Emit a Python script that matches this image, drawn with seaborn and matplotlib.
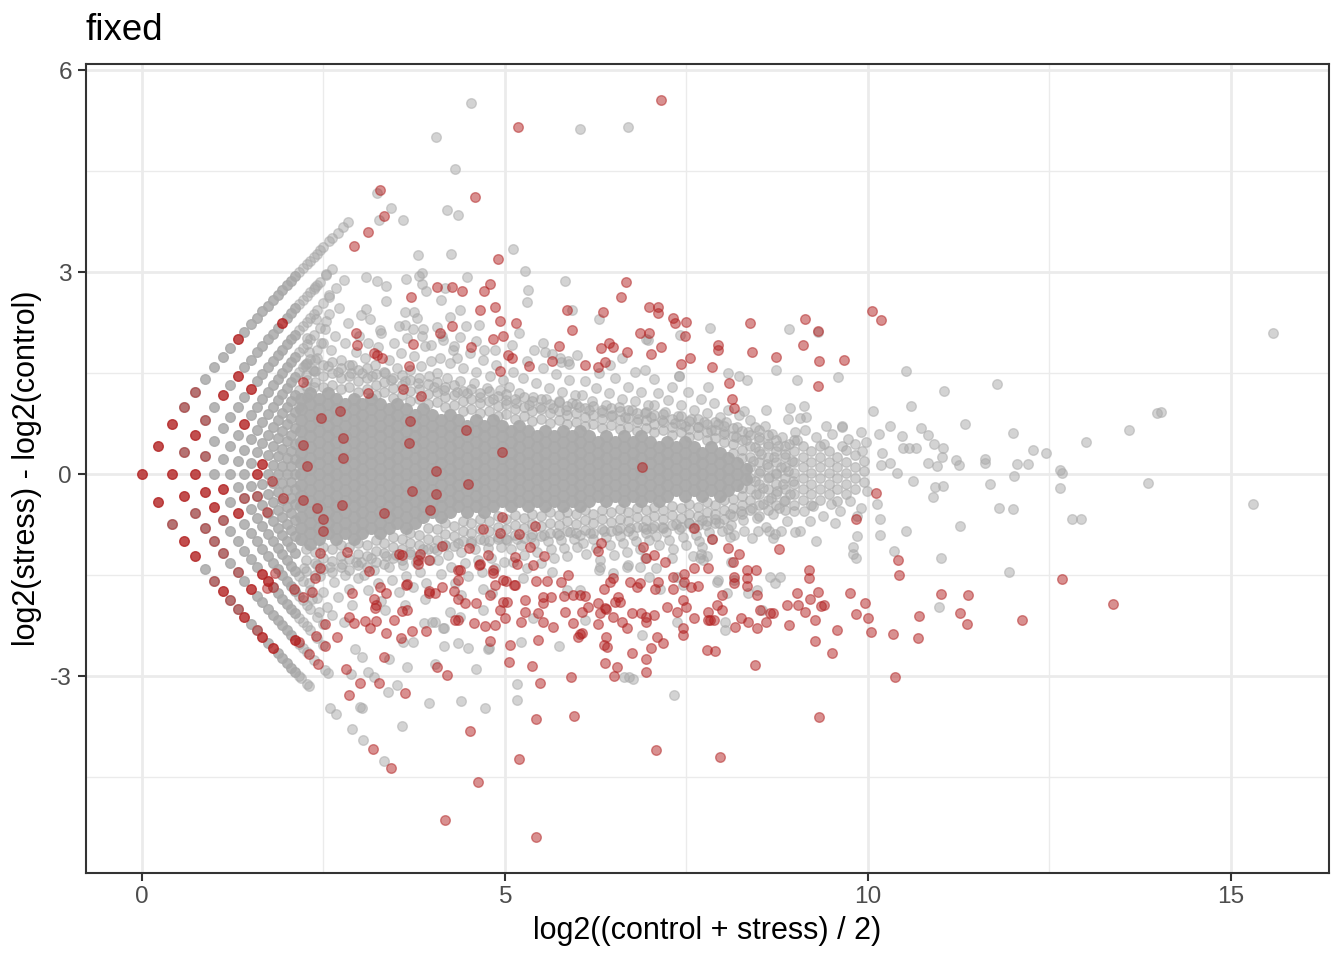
import numpy as np
import pandas as pd
import matplotlib
matplotlib.use("Agg")
import matplotlib.pyplot as plt
import seaborn as sns

# ------------------------------------------------------------------ data
# Low-count genes sit on a lattice: (summed control counts, summed stress counts)
# over 3 replicates; plotted values are the mean of (count + 1).
lattice_cols = [
    (0, [0]),
    (1, [0, 1]),
    (2, [0, 1, 2]),
    (3, [0, 1, 2, 3]),
    (4, [0, 1, 2, 3, 4]),
    (5, [0, 1, 2, 3, 4, 5]),
    (6, [0, 1, 2, 3, 4, 5, 6]),
    (7, [0, 1, 2, 3, 4, 5, 6, 7]),
    (8, [0, 1, 2, 3, 4, 5, 6, 7, 8]),
    (9, [0, 1, 2, 3, 4, 5, 6, 7, 8, 9]),
    (10, [0, 1, 2, 3, 4, 5, 6, 7, 8, 9, 10]),
    (11, [0, 1, 2, 3, 4, 5, 6, 7, 8, 9, 10, 11]),
    (12, [0, 1, 2, 3, 4, 5, 6, 7, 8, 9, 10, 11, 12]),
    (13, [0, 1, 2, 3, 4, 5, 6, 7, 8, 9, 10, 11, 12, 13]),
    (14, [0, 1, 2, 3, 4, 5, 6, 7, 8, 9, 10, 11, 12, 13, 14]),
    (15, [0, 1, 2, 3, 4, 5, 6, 7, 8, 9, 10, 11, 12, 13, 14, 15]),
    (16, [0, 1, 2, 3, 4, 5, 6, 7, 8, 9, 10, 11, 12, 13, 14, 15, 16]),
    (17, [0, 1, 2, 3, 4, 5, 6, 7, 8, 9, 10, 11, 12, 13, 14, 15, 16, 17]),
    (18, [0, 1, 2, 3, 4, 5, 6, 7, 8, 9, 10, 11, 12, 13, 14, 15, 16, 17, 18]),
    (19, [0, 1, 2, 3, 4, 5, 6, 7, 8, 9, 10, 11, 12, 13, 14, 15, 16, 17, 18, 19]),
    (20, [0, 1, 2, 3, 4, 5, 6, 7, 8, 9, 10, 11, 12, 13, 14, 15, 16, 17, 18, 19, 20]),
]
lattice_extra = [
    (0, 21), (0, 22), (0, 23), (0, 24), (0, 25), (0, 26), (0, 27), (0, 28), (0, 30),
    (0, 31), (0, 33), (0, 35), (0, 37),
    (1, 20), (1, 21), (1, 22), (1, 23), (1, 24), (1, 25), (1, 26), (1, 28), (1, 30),
    (2, 19), (2, 20), (2, 21), (2, 22), (2, 23), (2, 24), (2, 26), (2, 28),
    (3, 18), (3, 19), (3, 20), (3, 21), (3, 22), (3, 24), (3, 26),
    (4, 17), (4, 18), (4, 19), (4, 20), (4, 22), (4, 24),
    (5, 16), (5, 18), (5, 20), (6, 15), (6, 17), (6, 19),
    (21, 0), (23, 0), (20, 1), (21, 1), (22, 1), (24, 1),
    (19, 2), (20, 2), (21, 2), (22, 2), (24, 2), (26, 2),
    (18, 3), (19, 3), (20, 3), (21, 3), (23, 3), (25, 3),
    (17, 4), (18, 4), (20, 4), (22, 4),
]
# (control, stress) lattice genes flagged as changed
lattice_sig = [
    (0, 0), (1, 0), (0, 1), (0, 2), (1, 1), (2, 1), (3, 0), (1, 3), (2, 2), (4, 0),
    (3, 2), (4, 2), (1, 6), (4, 3), (7, 0), (0, 9), (1, 8), (6, 3), (3, 7), (10, 0),
    (2, 9), (10, 1), (6, 6), (6, 7), (11, 2), (13, 0), (12, 2), (15, 0), (1, 16), (19, 1),
]
lattice_mix = [
    (2, 0), (0, 3), (1, 2), (0, 4), (3, 1), (1, 4), (2, 3), (4, 1), (5, 1), (6, 0),
    (5, 2), (6, 1), (8, 0), (8, 1), (9, 0), (6, 4), (7, 5), (12, 0), (13, 2),
]

# saturated centre of the cloud: (A, list of M)
core_columns = [
    (2.20, [-0.96, -0.8, -0.64, -0.48, -0.32, -0.16, 0, 0.16, 0.32, 0.48, 0.64, 0.8, 0.96, 1.12]),
    (2.32, [-1.04, -0.88, -0.72, -0.56, -0.4, -0.24, -0.08, 0.08, 0.24, 0.4, 0.56, 0.72, 0.88, 1.04, 1.2]),
    (2.44, [-0.96, -0.8, -0.64, -0.48, -0.32, -0.16, 0, 0.16, 0.32, 0.48, 0.64, 0.8, 0.96, 1.12]),
    (2.56, [-0.88, -0.72, -0.56, -0.4, -0.24, -0.08, 0.08, 0.24, 0.4, 0.56, 0.72, 0.88, 1.04, 1.2]),
    (2.68, [-0.96, -0.8, -0.64, -0.48, -0.32, -0.16, 0, 0.16, 0.32, 0.48, 0.64, 0.8, 0.96, 1.12]),
    (2.80, [-0.88, -0.72, -0.56, -0.4, -0.24, -0.08, 0.08, 0.24, 0.4, 0.56, 0.72, 0.88, 1.04]),
    (2.92, [-0.96, -0.8, -0.64, -0.48, -0.32, -0.16, 0, 0.16, 0.32, 0.48, 0.64, 0.8, 0.96, 1.12]),
    (3.04, [-0.88, -0.72, -0.56, -0.4, -0.24, -0.08, 0.08, 0.24, 0.4, 0.56, 0.72, 0.88, 1.04]),
    (3.16, [-0.8, -0.64, -0.48, -0.32, -0.16, 0, 0.16, 0.32, 0.48, 0.64, 0.8, 0.96, 1.12]),
    (3.28, [-0.88, -0.72, -0.56, -0.4, -0.24, -0.08, 0.08, 0.24, 0.4, 0.56, 0.72, 0.88, 1.04]),
    (3.40, [-0.8, -0.64, -0.48, -0.32, -0.16, 0, 0.16, 0.32, 0.48, 0.64, 0.8, 0.96]),
    (3.52, [-0.72, -0.56, -0.4, -0.24, -0.08, 0.08, 0.24, 0.4, 0.56, 0.72, 0.88, 1.04]),
    (3.64, [-0.8, -0.64, -0.48, -0.32, -0.16, 0, 0.16, 0.32, 0.48, 0.64, 0.8, 0.96]),
    (3.76, [-0.72, -0.56, -0.4, -0.24, -0.08, 0.08, 0.24, 0.4, 0.56, 0.72, 0.88]),
    (3.88, [-0.64, -0.48, -0.32, -0.16, 0, 0.16, 0.32, 0.48, 0.64, 0.8, 0.96]),
    (4.00, [-0.56, -0.4, -0.24, -0.08, 0.08, 0.24, 0.4, 0.56, 0.72, 0.88]),
    (4.12, [-0.64, -0.48, -0.32, -0.16, 0, 0.16, 0.32, 0.48, 0.64, 0.8]),
    (4.24, [-0.56, -0.4, -0.24, -0.08, 0.08, 0.24, 0.4, 0.56, 0.72, 0.88]),
    (4.36, [-0.48, -0.32, -0.16, 0, 0.16, 0.32, 0.48, 0.64, 0.8]),
    (4.48, [-0.56, -0.4, -0.24, -0.08, 0.08, 0.24, 0.4, 0.56, 0.72]),
    (4.60, [-0.48, -0.32, -0.16, 0, 0.16, 0.32, 0.48, 0.64, 0.8]),
    (4.72, [-0.56, -0.4, -0.24, -0.08, 0.08, 0.24, 0.4, 0.56, 0.72]),
    (4.84, [-0.48, -0.32, -0.16, 0, 0.16, 0.32, 0.48, 0.64, 0.8]),
    (4.96, [-0.4, -0.24, -0.08, 0.08, 0.24, 0.4, 0.56, 0.72]),
    (5.08, [-0.48, -0.32, -0.16, 0, 0.16, 0.32, 0.48, 0.64]),
    (5.20, [-0.4, -0.24, -0.08, 0.08, 0.24, 0.4, 0.56, 0.72]),
    (5.32, [-0.48, -0.32, -0.16, 0, 0.16, 0.32, 0.48, 0.64]),
    (5.44, [-0.4, -0.24, -0.08, 0.08, 0.24, 0.4, 0.56]),
    (5.56, [-0.48, -0.32, -0.16, 0, 0.16, 0.32, 0.48, 0.64]),
    (5.68, [-0.4, -0.24, -0.08, 0.08, 0.24, 0.4, 0.56]),
    (5.80, [-0.48, -0.32, -0.16, 0, 0.16, 0.32, 0.48, 0.64]),
    (5.92, [-0.4, -0.24, -0.08, 0.08, 0.24, 0.4, 0.56]),
    (6.04, [-0.48, -0.32, -0.16, 0, 0.16, 0.32, 0.48, 0.64]),
    (6.16, [-0.4, -0.24, -0.08, 0.08, 0.24, 0.4, 0.56]),
    (6.28, [-0.32, -0.16, 0, 0.16, 0.32, 0.48]),
    (6.40, [-0.4, -0.24, -0.08, 0.08, 0.24, 0.4, 0.56]),
    (6.52, [-0.32, -0.16, 0, 0.16, 0.32, 0.48]),
    (6.64, [-0.4, -0.24, -0.08, 0.08, 0.24, 0.4, 0.56]),
    (6.76, [-0.32, -0.16, 0, 0.16, 0.32, 0.48]),
    (6.88, [-0.4, -0.24, -0.08, 0.08, 0.24, 0.4, 0.56]),
    (7.00, [-0.32, -0.16, 0, 0.16, 0.32, 0.48]),
    (7.12, [-0.4, -0.24, -0.08, 0.08, 0.24, 0.4]),
    (7.24, [-0.32, -0.16, 0, 0.16, 0.32, 0.48]),
    (7.36, [-0.24, -0.08, 0.08, 0.24, 0.4]),
    (7.48, [-0.32, -0.16, 0, 0.16, 0.32, 0.48]),
    (7.60, [-0.24, -0.08, 0.08, 0.24, 0.4]),
    (7.72, [-0.32, -0.16, 0, 0.16, 0.32]),
    (7.84, [-0.24, -0.08, 0.08, 0.24, 0.4]),
    (7.96, [-0.32, -0.16, 0, 0.16, 0.32]),
    (8.08, [-0.24, -0.08, 0.08, 0.24]),
    (8.20, [-0.16, 0, 0.16]),
    (8.32, [-0.08, 0.08]),
]

# dense (not saturated) fringe of the cloud: (A, list of M)
dense_columns = [
    (2.26, [1.31, 1.47, 1.64, -1.11, -1.27, -1.44]),
    (2.38, [1.36, 1.53, 1.70, -1.15, -1.32, -1.50]),
    (2.50, [1.29, 1.45, 1.62, -1.08, -1.24, -1.41]),
    (2.62, [1.33, 1.50, 1.66, -1.12, -1.29, -1.46]),
    (2.74, [1.26, 1.42, 1.58, -1.05, -1.21, -1.38]),
    (2.86, [1.30, 1.46, 1.62, -1.09, -1.26, -1.42]),
    (2.98, [1.22, 1.38, 1.54, -1.02, -1.18, -1.35]),
    (3.10, [1.26, 1.42, 1.57, -1.06, -1.22, -1.38]),
    (3.22, [1.18, 1.33, 1.49, -0.98, -1.14, -1.30]),
    (3.34, [1.22, 1.37, 1.52, -1.02, -1.17, -1.33]),
    (3.46, [1.13, 1.28, 1.43, -0.93, -1.09, -1.25]),
    (3.58, [1.17, 1.32, 1.47, -0.96, -1.12, -1.27]),
    (3.70, [1.09, 1.24, 1.39, -0.87, -1.03, -1.18]),
    (3.82, [1.12, 1.27, 1.42, -0.90, -1.06, -1.21]),
    (3.94, [1.04, 1.19, 1.34, -0.80, -0.96, -1.12]),
    (4.06, [1.07, 1.22, 1.37, -0.82, -0.98, -1.13]),
    (4.18, [0.99, 1.14, 1.29, -0.73, -0.89, -1.05]),
    (4.30, [1.02, 1.17, 1.32, -0.77, -0.92, -1.07]),
    (4.42, [0.94, 1.09, 1.24, -0.69, -0.84, -1.00]),
    (4.54, [0.97, 1.12, 1.27, -0.72, -0.87, -1.03]),
    (4.66, [0.90, 1.05, 1.20, -0.66, -0.81, -0.97]),
    (4.78, [0.93, 1.08, 1.23, -0.69, -0.84, -1.00]),
    (4.90, [0.86, 1.01, 1.16, -0.63, -0.78, -0.94]),
    (5.02, [0.89, 1.04, 1.19, -0.67, -0.82, -0.97]),
    (5.14, [0.82, 0.97, 1.12, -0.61, -0.76, -0.91]),
    (5.26, [0.86, 1.00, 1.15, -0.65, -0.80, -0.95]),
    (5.38, [0.79, 0.94, 1.08, -0.59, -0.74, -0.89]),
    (5.50, [0.82, 0.97, 1.11, -0.62, -0.77, -0.92]),
    (5.62, [0.76, 0.90, 1.04, -0.57, -0.72, -0.87]),
    (5.74, [0.80, 0.94, 1.07, -0.61, -0.76, -0.90]),
    (5.86, [0.74, 0.88, 1.01, -0.56, -0.70, -0.85]),
    (5.98, [0.77, 0.91, 1.04, -0.60, -0.74, -0.88]),
    (6.10, [0.71, 0.85, 0.98, -0.54, -0.68, -0.83]),
    (6.22, [0.75, 0.88, 1.01, -0.59, -0.73, -0.87]),
    (6.34, [0.69, 0.82, 0.95, -0.53, -0.67, -0.81]),
    (6.46, [0.73, 0.86, 0.98, -0.57, -0.71, -0.85]),
    (6.58, [0.67, 0.80, 0.93, -0.52, -0.66, -0.80]),
    (6.70, [0.70, 0.83, 0.95, -0.56, -0.70, -0.84]),
    (6.82, [0.64, 0.77, 0.90, -0.50, -0.64, -0.78]),
    (6.94, [0.68, 0.80, 0.92, -0.54, -0.68, -0.82]),
    (7.06, [0.62, 0.75, 0.87, -0.49, -0.63, -0.77]),
    (7.18, [0.65, 0.77, 0.89, -0.53, -0.67, -0.80]),
    (7.30, [0.58, 0.70, 0.82, -0.47, -0.61, -0.75]),
    (7.42, [0.62, 0.74, 0.86, -0.51, -0.65, -0.78]),
    (7.54, [0.55, 0.67, 0.79, -0.45, -0.59, -0.73]),
    (7.66, [0.58, 0.70, 0.82, -0.49, -0.63, -0.76]),
    (7.78, [0.51, 0.63, 0.75, -0.42, -0.56, -0.70]),
    (7.90, [0.54, 0.66, 0.78, -0.46, -0.60, -0.73]),
    (8.02, [0.47, 0.59, 0.71, -0.39, -0.53, -0.67]),
    (8.14, [0.32, 0.44, 0.56, 0.68, -0.37, -0.50, -0.63]),
    (8.26, [0.24, 0.36, 0.50, 0.64, -0.20, -0.32, -0.46, -0.60]),
    (8.38, [0.10, 0.26, 0.42, 0.58, -0.06, -0.22, -0.38, -0.54]),
    (8.50, [0.02, 0.18, 0.34, 0.50, 0.66, -0.14, -0.30, -0.46, -0.62]),
    (8.62, [0.10, 0.26, 0.42, 0.58, -0.06, -0.22, -0.38, -0.54]),
    (8.74, [0.02, 0.18, 0.34, 0.50, -0.14, -0.30, -0.46]),
    (8.86, [0.10, 0.26, 0.42, -0.06, -0.22, -0.38, -0.54]),
    (8.98, [0.02, 0.18, 0.34, 0.50, -0.14, -0.30, -0.46]),
    (9.10, [0.10, 0.26, 0.42, -0.06, -0.22, -0.38]),
    (9.22, [0.02, 0.18, 0.34, -0.14, -0.30, -0.46]),
    (9.34, [0.10, 0.26, 0.42, -0.06, -0.22, -0.38]),
    (9.46, [0.02, 0.18, 0.34, -0.14, -0.30]),
    (9.58, [0.10, 0.26, -0.06, -0.22, -0.40]),
    (9.70, [0.02, 0.18, 0.36, -0.14, -0.30]),
    (9.82, [0.10, 0.28, -0.06, -0.22]),
    (9.94, [0.04, 0.20, -0.12]),
]

# unchanged genes around the cloud: (A, M)
cloud_gray = [
    (2.25, 1.62), (2.31, 1.81), (2.28, 2.02), (2.36, 1.55), (2.42, 1.72), (2.47, 1.95), (2.52, 2.15),
    (2.56, 1.6), (2.61, 1.84), (2.66, 2.05), (2.7, 1.52), (2.75, 1.7), (2.8, 1.95), (2.84, 2.25),
    (2.9, 1.62), (2.95, 1.82), (2.99, 2.05), (2.88, 1.5), (2.4, 2.3), (2.58, 2.38), (2.72, 2.46),
    (2.24, -1.4), (2.3, -1.62), (2.35, -1.85), (2.41, -1.35), (2.46, -1.52), (2.5, -1.75), (2.55, -1.98),
    (2.6, -1.38), (2.65, -1.6), (2.7, -1.82), (2.76, -1.33), (2.8, -1.5), (2.85, -1.7), (2.9, -1.95),
    (2.95, -1.3), (2.98, -1.55), (2.62, -2.1), (2.78, -2.2), (2.44, -2.05),
    (3.03, 1.5), (3.08, 1.72), (3.12, 1.95), (3.17, 1.45), (3.21, 1.62), (3.26, 1.88), (3.3, 2.1),
    (3.35, 1.5), (3.4, 1.7), (3.44, 1.4), (3.48, 1.95), (3.52, 1.58), (3.57, 1.8), (3.62, 1.38),
    (3.66, 2.02), (3.7, 1.55), (3.75, 1.75), (3.8, 1.35), (3.85, 1.6), (3.9, 1.9), (3.95, 1.45),
    (3.98, 1.68), (3.14, 2.3), (3.55, 2.2), (3.88, 2.15),
    (3.02, -1.3), (3.06, -1.5), (3.11, -1.72), (3.16, -1.25), (3.2, -1.42), (3.25, -1.62), (3.3, -1.88),
    (3.36, -1.22), (3.4, -1.38), (3.45, -1.58), (3.5, -1.2), (3.54, -1.75), (3.6, -1.35), (3.64, -1.52),
    (3.69, -1.15), (3.73, -1.68), (3.78, -1.3), (3.83, -1.45), (3.87, -1.12), (3.92, -1.62), (3.97, -1.28),
    (3.35, -2.02), (3.62, -1.95), (3.9, -1.85),
    (4.02, 1.3), (4.07, 1.5), (4.11, 1.72), (4.16, 1.25), (4.2, 1.42), (4.25, 1.65), (4.3, 1.9),
    (4.34, 1.22), (4.39, 1.38), (4.43, 1.58), (4.48, 1.2), (4.52, 1.8), (4.57, 1.35), (4.61, 1.52),
    (4.66, 1.15), (4.7, 1.7), (4.75, 1.28), (4.79, 1.45), (4.84, 1.12), (4.88, 1.62), (4.93, 1.25),
    (4.97, 1.4), (4.13, 2.05), (4.6, 1.98), (4.86, 1.85),
    (4.03, -1.1), (4.08, -1.28), (4.12, -1.48), (4.17, -1.05), (4.22, -1.2), (4.26, -1.38), (4.31, -1.62),
    (4.36, -1.02), (4.4, -1.15), (4.45, -1.32), (4.5, -1.52), (4.54, -1.0), (4.59, -1.12), (4.63, -1.28),
    (4.68, -1.45), (4.72, -0.98), (4.77, -1.1), (4.81, -1.25), (4.86, -1.4), (4.9, -0.97), (4.95, -1.08),
    (4.99, -1.3), (4.4, -1.8), (4.7, -1.7),
    (5.02, 1.1), (5.06, 1.3), (5.11, 1.52), (5.16, 1.05), (5.2, 1.2), (5.25, 1.42), (5.3, 1.68),
    (5.34, 1.03), (5.39, 1.15), (5.43, 1.35), (5.48, 1.0), (5.52, 1.58), (5.57, 1.12), (5.61, 1.28),
    (5.66, 0.98), (5.7, 1.48), (5.75, 1.08), (5.79, 1.22), (5.84, 0.95), (5.88, 1.4), (5.93, 1.05),
    (5.97, 1.18), (5.4, 1.85), (5.76, 1.72),
    (5.03, -0.98), (5.08, -1.12), (5.12, -1.3), (5.17, -0.96), (5.22, -1.05), (5.26, -1.2), (5.31, -1.4),
    (5.36, -0.93), (5.4, -1.02), (5.45, -1.15), (5.5, -1.32), (5.54, -0.9), (5.59, -1.0), (5.63, -1.12),
    (5.68, -1.25), (5.72, -0.88), (5.77, -0.98), (5.81, -1.1), (5.86, -1.22), (5.9, -0.86), (5.95, -0.96),
    (5.99, -1.08), (5.25, -1.55), (5.65, -1.45),
    (6.02, 1.0), (6.06, 1.18), (6.11, 1.38), (6.16, 0.95), (6.2, 1.08), (6.25, 1.28), (6.3, 1.5),
    (6.34, 0.92), (6.39, 1.02), (6.43, 1.2), (6.48, 0.88), (6.52, 1.42), (6.57, 1.0), (6.61, 1.12),
    (6.66, 0.85), (6.7, 1.3), (6.75, 0.95), (6.79, 1.08), (6.84, 0.82), (6.88, 1.22), (6.93, 0.9),
    (6.97, 1.02), (6.45, 1.62), (6.8, 1.52),
    (6.03, -0.9), (6.08, -1.02), (6.12, -1.18), (6.17, -0.88), (6.22, -0.96), (6.26, -1.1), (6.31, -1.28),
    (6.36, -0.85), (6.4, -0.94), (6.45, -1.05), (6.5, -1.2), (6.54, -0.83), (6.59, -0.92), (6.63, -1.02),
    (6.68, -1.15), (6.72, -0.8), (6.77, -0.9), (6.81, -1.0), (6.86, -1.12), (6.9, -0.78), (6.95, -0.88),
    (6.99, -0.98), (6.3, -1.42), (6.7, -1.35),
    (7.02, 0.85), (7.06, 1.02), (7.11, 1.2), (7.16, 0.8), (7.2, 0.92), (7.25, 1.1), (7.3, 1.3),
    (7.34, 0.76), (7.39, 0.86), (7.43, 1.02), (7.48, 0.72), (7.52, 1.22), (7.57, 0.82), (7.61, 0.95),
    (7.66, 0.7), (7.7, 1.12), (7.75, 0.78), (7.79, 0.9), (7.84, 0.66), (7.88, 1.05), (7.93, 0.74),
    (7.97, 0.85), (7.4, 1.45), (7.8, 1.3),
    (7.03, -0.8), (7.08, -0.92), (7.12, -1.06), (7.17, -0.78), (7.22, -0.86), (7.26, -0.98), (7.31, -1.12),
    (7.36, -0.74), (7.4, -0.82), (7.45, -0.93), (7.5, -1.05), (7.54, -0.72), (7.59, -0.8), (7.63, -0.9),
    (7.68, -1.0), (7.72, -0.68), (7.77, -0.76), (7.81, -0.86), (7.86, -0.96), (7.9, -0.66), (7.95, -0.73),
    (7.99, -0.84), (7.3, -1.25), (7.7, -1.18),
    (8.02, 0.62), (8.05, 0.78), (8.08, 0.95), (8.1, -0.6), (8.12, -0.75), (8.15, -0.9), (8.18, 0.55),
    (8.2, 0.7), (8.22, 0.88), (8.25, -0.55), (8.28, -0.68), (8.3, -0.85), (8.32, 0.5), (8.35, 0.62),
    (8.38, 0.8), (8.4, -0.5), (8.42, 0.2), (8.44, -0.1), (8.45, 0.4), (8.46, -0.3), (8.48, -0.65),
    (8.5, 0.55), (8.52, 0.05), (8.53, 0.3), (8.55, -0.2), (8.56, -0.45), (8.58, 0.72), (8.6, -0.78),
    (8.61, 0.15), (8.63, 0.45), (8.64, -0.05), (8.66, -0.35), (8.68, 0.6), (8.7, -0.6), (8.71, 0.25),
    (8.73, 0.0), (8.75, -0.25), (8.76, 0.42), (8.78, -0.5), (8.8, 0.1), (8.82, 0.55), (8.83, -0.15),
    (8.85, -0.4), (8.86, 0.3), (8.88, -0.7), (8.9, 0.05), (8.92, 0.45), (8.93, -0.3), (8.95, 0.2),
    (8.97, -0.1), (8.98, -0.55), (8.99, 0.62), (8.45, 0.7), (8.6, 0.95),
    (8.7, -0.95), (8.4, -0.95), (8.9, 0.82), (8.8, -0.85),
    (9.02, 0.5), (9.14, 0.65), (9.12, -0.55), (9.25, -0.48), (9.28, 0.55), (9.38, -0.62), (9.4, 0.45),
    (9.49, -0.45), (9.51, 0.6), (9.62, -0.55), (9.64, 0.42), (9.72, 0.52), (9.76, -0.4), (9.82, 0.45),
    (9.9, -0.5), (9.92, 0.35), (9.98, 0.48), (9.99, -0.25), (9.15, 0.85), (9.42, 0.72), (9.2, -0.7),
    (9.55, -0.72), (9.85, -0.62), (9.9, 0.62), (9.65, 0.7),
]

# scattered unchanged genes: (A, M)
scatter_gray = [
    (4.54, 5.51), (4.05, 5.01), (6.04, 5.13), (6.69, 5.16), (4.31, 4.53), (4.21, 3.92), (4.35, 3.85),
    (3.44, 3.95), (3.60, 3.77), (3.24, 4.18), (3.27, 3.77), (3.81, 3.25), (3.86, 2.99), (3.82, 2.94),
    (3.86, 2.83), (4.26, 3.27), (5.12, 3.34), (5.28, 3.02), (4.48, 2.92), (3.64, 2.89), (3.91, 2.72),
    (3.37, 2.80), (3.24, 2.86), (3.09, 2.92), (2.79, 2.88), (2.54, 2.97), (2.39, 2.78), (2.58, 2.66),
    (2.68, 2.76), (3.02, 2.36), (3.09, 2.45), (3.36, 2.57), (3.28, 2.14), (3.63, 2.41), (3.79, 2.32),
    (3.74, 2.15), (3.86, 2.05), (4.12, 2.59), (4.06, 2.19), (4.18, 2.76), (4.24, 2.33), (4.39, 2.44),
    (4.47, 2.20), (4.38, 2.04), (4.65, 2.22), (3.98, 1.92), (4.29, 1.84), (5.10, 1.91), (5.20, 2.09),
    (5.53, 1.94), (5.55, 1.82), (5.83, 2.87), (5.92, 2.43), (6.30, 2.30), (6.62, 1.72), (5.99, 1.77),
    (5.87, 1.68), (5.65, 1.79), (5.30, 2.56), (5.32, 2.73), (7.41, 2.06), (6.97, 1.99), (6.93, 1.54),
    (7.83, 2.17), (8.91, 2.16), (9.31, 2.11), (8.74, 1.55), (8.22, 1.45), (8.33, 1.40), (8.08, 1.50),
    (9.03, 1.39), (9.59, 1.44), (9.12, 1.01), (8.93, 0.98), (8.30, 0.94), (9.06, 0.84), (9.65, 0.71),
    (10.16, 0.59), (5.77, 1.67), (5.88, 1.64), (4.72, 1.85), (4.15, 1.99), (4.34, 1.72), (3.75, 2.41),
    (3.63, 2.21), (6.95, 2.00), (7.40, 1.45), (7.05, 1.41),
    (10.52, 1.53), (11.05, 1.23), (11.78, 1.34), (10.07, 0.94), (10.59, 1.01), (11.34, 0.74),
    (10.31, 0.72), (10.73, 0.68), (10.83, 0.58), (10.47, 0.56), (10.91, 0.44), (11.04, 0.38),
    (10.48, 0.39), (10.57, 0.39), (10.66, 0.39), (10.19, 0.32), (11.02, 0.25), (11.22, 0.21),
    (11.25, 0.14), (11.61, 0.23), (11.61, 0.16), (12.05, 0.15), (12.21, 0.15), (12.27, 0.36),
    (12.45, 0.31), (12.64, 0.06), (12.68, 0.02), (12.64, -0.20), (13.00, 0.48), (10.83, 0.17),
    (10.95, 0.12), (10.30, 0.16), (10.18, 0.13), (10.40, 0.01), (10.62, -0.11), (10.92, -0.19),
    (11.03, -0.17), (11.68, -0.15), (12.01, -0.03), (10.89, -0.34), (11.81, -0.51), (12.00, -0.52),
    (12.81, -0.66), (12.94, -0.66), (11.27, -0.77), (10.52, -0.85), (10.17, -0.67), (10.17, -0.91),
    (10.12, -0.44), (9.85, -0.92), (9.80, -1.08), (9.80, -1.18), (9.84, -1.24), (10.36, -1.14),
    (11.01, -1.25), (11.94, -1.46), (10.98, -1.97), (15.58, 2.09), (13.98, 0.90), (14.03, 0.92),
    (13.59, 0.66), (12.00, 0.61), (13.86, -0.13), (15.31, -0.44),
    (2.20, -3.03), (2.31, -3.15), (2.60, -3.48), (2.68, -3.56), (3.01, -3.46), (3.03, -3.48),
    (2.89, -3.79), (3.05, -3.95), (3.34, -4.26), (3.59, -3.74), (3.65, -2.87), (3.39, -3.23),
    (3.51, -3.13), (3.95, -3.40), (4.04, -2.82), (4.40, -3.37), (4.73, -3.47), (4.60, -2.89),
    (5.17, -3.12), (5.17, -3.36), (7.33, -3.28), (5.74, -2.55), (5.23, -2.49), (4.77, -2.60),
    (4.49, -2.58), (4.36, -2.51), (4.15, -2.28), (4.00, -2.19), (3.74, -2.49), (3.60, -2.49),
    (3.40, -2.75), (3.12, -2.94), (3.20, -3.01), (2.88, -2.97), (2.56, -2.96), (2.52, -2.91),
    (2.94, -2.60), (3.04, -2.71), (6.76, -3.05), (6.89, -2.39), (6.71, -3.02), (6.64, -3.02),
    (4.78, -2.59), (4.16, -2.56), (3.89, -2.21), (4.04, -2.19), (4.16, -2.29), (4.24, -2.05),
    (4.38, -2.12), (4.70, -2.02), (4.83, -1.77), (5.39, -2.14), (5.85, -1.72), (6.04, -1.72),
    (6.10, -2.17), (6.49, -1.47), (6.68, -1.38), (6.86, -1.38), (7.14, -1.70), (8.03, -2.19),
    (8.03, -2.32), (6.31, -1.38), (6.93, -1.25), (7.08, -1.40), (6.98, -1.53), (7.37, -1.53),
    (7.45, -1.65), (7.69, -1.25), (8.47, -1.72), (8.54, -2.02), (8.65, -1.53), (8.79, -1.53),
    (8.06, -1.77), (8.35, -1.77), (7.92, -1.60), (7.37, -2.19), (8.49, -0.84), (8.64, -0.84),
    (8.72, -0.89), (9.00, -0.86), (9.06, -0.84), (9.28, -1.00), (8.07, -0.81), (7.59, -1.22),
    (7.73, -1.27), (7.79, -1.22), (7.71, -1.08), (8.10, -0.93), (8.12, -1.30), (8.16, -1.57),
    (7.93, -1.57), (8.72, -1.62),
]

# changed genes: (A, M)
changed = [
    (7.15, 5.55), (5.18, 5.16), (4.59, 4.11), (3.28, 4.22), (3.33, 3.83), (3.12, 3.60), (2.92, 3.39),
    (4.90, 3.19), (4.06, 2.78), (4.27, 2.78), (4.41, 2.72), (3.71, 2.63), (4.80, 2.83), (4.71, 2.72),
    (4.66, 2.44), (4.87, 2.48), (4.93, 2.28), (5.16, 2.25), (4.84, 2.00), (4.97, 2.05), (4.11, 2.09),
    (3.74, 1.93), (2.95, 2.09), (2.97, 1.92), (3.24, 1.77), (3.31, 1.73), (4.27, 2.20), (4.53, 1.89),
    (5.05, 1.77), (5.10, 1.73), (5.33, 1.60), (4.93, 1.53), (5.75, 1.90), (5.65, 1.68), (5.85, 2.44),
    (5.93, 2.14), (6.10, 1.62), (6.28, 1.59), (6.38, 1.67), (6.35, 2.41), (6.44, 1.94), (6.33, 1.87),
    (6.49, 1.88), (6.68, 1.82), (6.60, 2.63), (6.67, 2.85), (6.98, 2.48), (7.11, 2.48), (7.11, 2.39),
    (6.86, 2.09), (6.98, 2.09), (7.01, 1.79), (7.15, 1.88), (7.32, 2.32), (7.35, 2.24), (7.50, 2.26),
    (7.48, 2.05), (7.55, 1.73), (7.43, 1.64), (8.37, 2.24), (9.13, 2.31), (9.32, 2.12), (8.74, 1.74),
    (9.33, 1.68), (9.67, 1.70), (9.32, 1.31), (7.93, 1.91), (7.93, 1.84), (7.85, 1.59), (8.40, 1.82),
    (8.09, 1.35), (8.13, 1.11), (8.16, 0.98), (10.06, 2.42), (10.18, 2.29), (9.10, 1.92), (3.68, 1.60),
    (3.20, 1.80),
    (3.60, 1.26), (3.84, 1.16), (3.70, 0.79), (3.68, 0.46), (4.46, 0.66), (4.96, 0.33), (4.05, 0.05),
    (4.49, -0.15), (3.72, -0.25), (4.05, -0.30), (3.97, -0.54), (6.89, 0.10), (4.96, -0.64), (4.70, -0.81),
    (4.93, -0.87), (5.19, -0.89), (5.42, -0.77), (7.60, -0.80), (2.77, 0.54), (2.77, 0.24), (2.27, 0.12),
    (2.22, 0.43), (1.79, -0.10), (1.94, -0.35), (2.22, -0.39), (2.41, -0.51), (2.76, -0.46), (3.33, -0.58),
    (1.72, -0.56), (2.49, -0.66), (2.49, -0.84), (2.47, 0.84), (2.73, 0.93), (3.12, 1.21), (2.22, 1.36),
    (4.51, -1.10), (4.14, -1.07), (5.35, -1.08), (5.54, -1.22), (6.33, -1.03), (6.29, -1.14), (6.90, -1.09),
    (7.05, -1.20), (6.95, -1.25), (7.21, -1.30), (7.86, -0.97), (8.07, -1.10), (8.22, -1.18), (8.14, -1.30),
    (8.78, -1.11), (3.83, -1.18), (3.96, -1.27), (3.58, -1.20), (4.64, -1.35), (4.77, -1.20), (5.14, -1.23),
    (5.17, -1.33), (5.39, -1.35), (4.38, -1.42), (4.84, -1.43), (5.02, -1.59), (5.13, -1.64), (5.87, -1.50),
    (5.58, -1.59), (5.43, -1.59), (5.81, -1.81), (5.94, -1.80), (6.04, -1.80), (6.10, -1.81), (6.36, -1.70),
    (6.45, -1.60), (6.49, -1.55), (6.73, -1.60), (6.82, -1.67), (6.86, -1.62), (7.11, -1.61), (7.31, -1.53),
    (7.31, -1.70), (7.47, -1.48), (7.47, -1.61), (7.56, -1.67), (7.66, -1.66), (7.80, -1.39), (7.60, -1.40),
    (8.15, -1.53), (8.15, -1.62), (8.34, -1.42), (8.34, -1.55), (8.34, -1.66), (8.46, -1.42), (9.19, -1.42),
    (9.19, -1.55), (9.02, -1.76), (9.32, -1.75), (9.20, -1.86), (8.47, -1.80), (2.45, -1.17), (2.45, -1.39),
    (2.39, -1.55), (2.83, -1.15), (3.13, -1.44), (2.90, -1.76), (3.28, -1.67), (3.55, -1.19), (3.81, -1.28),
    (3.65, -1.63), (3.96, -1.73), (3.20, -1.85), (3.23, -1.95), (3.47, -2.16), (1.84, -1.47), (1.73, -1.69),
    (2.10, -1.70), (2.22, -1.82), (2.35, -1.75), (2.52, -2.22), (2.40, -2.41), (2.31, -2.67), (2.43, -2.82),
    (2.82, -2.89), (2.85, -3.28), (3.01, -3.10), (3.27, -3.11), (3.63, -3.25), (3.18, -4.09), (3.44, -4.37),
    (4.18, -5.14), (4.52, -3.82), (4.63, -4.58), (5.20, -4.23), (5.43, -3.64), (5.43, -5.39), (5.95, -3.60),
    (7.08, -4.10), (7.96, -4.20), (9.33, -3.61), (5.91, -3.02), (5.48, -3.10), (3.37, -2.36), (3.34, -2.71),
    (3.57, -2.43), (3.23, -2.18), (3.14, -2.28), (3.07, -2.18), (2.92, -2.21), (2.85, -2.13), (3.37, -1.76),
    (3.21, -1.99), (3.58, -2.03), (3.64, -1.65), (3.95, -1.76), (4.04, -1.76), (4.13, -1.67), (3.81, -1.34),
    (4.30, -1.74), (4.35, -1.86), (4.36, -2.17), (4.86, -2.24), (4.35, -1.43), (4.35, -1.57), (4.66, -1.34),
    (4.84, -1.47), (4.86, -1.65), (4.80, -1.80), (4.97, -1.58), (5.14, -1.65), (5.46, -2.07), (5.63, -1.82),
    (5.53, -1.92), (5.77, -1.61), (5.83, -2.05), (6.01, -2.42), (6.06, -2.36), (6.29, -2.22), (6.36, -2.54),
    (6.38, -2.81), (6.39, -2.01), (6.51, -3.00), (6.94, -2.75), (6.94, -2.94), (7.07, -1.71), (7.46, -1.87),
    (2.17, -2.49), (2.53, -2.55), (2.69, -2.42),
    (3.65, -2.02), (3.72, -2.33), (3.92, -2.33), (4.06, -2.86), (4.20, -2.99), (4.31, -2.17), (4.45, -1.92),
    (4.61, -1.92), (4.57, -2.21), (4.73, -2.26), (4.80, -2.48), (4.93, -2.02), (4.98, -1.90), (5.03, -1.90),
    (5.00, -2.14), (5.07, -2.54), (5.06, -2.79), (5.23, -2.19), (5.28, -1.87), (5.28, -2.05), (5.38, -2.85),
    (5.46, -2.47), (5.53, -2.19), (5.52, -1.82), (5.67, -2.27), (5.94, -2.21), (6.04, -2.37), (6.06, -2.05),
    (6.15, -1.97), (6.28, -1.92), (6.31, -2.06), (6.38, -1.99), (6.39, -2.42), (6.41, -2.57), (6.52, -1.90),
    (6.56, -1.82), (6.59, -1.90), (6.49, -2.12), (6.61, -2.19), (6.68, -2.29), (6.75, -2.07), (6.75, -2.65),
    (6.54, -2.86), (6.88, -2.06), (6.94, -2.12), (6.94, -2.19), (7.05, -2.09), (7.01, -2.59), (7.09, -2.42),
    (7.18, -2.51), (7.23, -1.97), (7.37, -2.05), (7.45, -2.29), (7.46, -2.39), (7.50, -1.97), (7.60, -2.14),
    (7.80, -2.05), (7.92, -1.95), (7.99, -1.80), (7.99, -2.02), (7.80, -2.16), (8.17, -2.27), (8.25, -2.14),
    (8.35, -2.19), (8.51, -2.02), (8.60, -2.19), (8.65, -2.07), (8.69, -2.07), (8.89, -1.95), (9.04, -1.95),
    (8.92, -2.24), (9.13, -2.05), (9.27, -2.16), (9.36, -1.96), (9.27, -2.48), (9.58, -2.32), (9.51, -2.66),
    (8.44, -2.83), (7.78, -2.61), (7.89, -2.63), (7.82, -2.17), (7.88, -2.17), (8.48, -2.29), (9.40, -1.95),
    (10.11, -0.28), (9.84, -0.67), (10.42, -1.28), (10.43, -1.50), (12.68, -1.56), (9.76, -1.76),
    (9.96, -1.92), (9.83, -2.08), (10.00, -2.14), (10.04, -2.34), (10.38, -3.01), (10.34, -2.38),
    (10.69, -2.44), (10.70, -2.11), (11.01, -1.78), (11.38, -1.80), (11.27, -2.06), (11.37, -2.23),
    (12.12, -2.16), (13.38, -1.93),
]

# ------------------------------------------------------------------ tables
def lattice_frame(pairs):
    pairs = np.asarray(pairs, dtype=float).reshape(-1, 2)
    control = 1 + pairs[:, 0] / 3
    stress = 1 + pairs[:, 1] / 3
    return pd.DataFrame({"A": np.log2((control + stress) / 2),
                         "M": np.log2(stress) - np.log2(control)})

def column_frame(cols):
    return pd.DataFrame([(x, y) for x, ys in cols for y in ys], columns=["A", "M"])

sig_set = set(lattice_sig)
lat_all = [(n - j, j) for n, js in lattice_cols for j in js]
lat_gray = lattice_frame([p for p in lat_all if p not in sig_set])
lat_extra = lattice_frame(lattice_extra)
lat_red = lattice_frame(lattice_sig)
lat_mix = lattice_frame(lattice_mix)
core = column_frame(core_columns)
dense = column_frame(dense_columns)
cloud = pd.DataFrame(cloud_gray + scatter_gray, columns=["A", "M"])
red = pd.DataFrame(changed, columns=["A", "M"])

# ------------------------------------------------------------------ plot
sns.set_theme(style="white")
plt.rcParams["font.family"] = ["Liberation Sans", "DejaVu Sans"]

W, H = 1344, 960
fig = plt.figure(figsize=(W / 200, H / 200), dpi=200)
left, right, top, bottom = 85.7, 1329, 64, 872.7
ax = fig.add_axes([left / W, 1 - bottom / H, (right - left) / W, (bottom - top) / H])

GRAY = "#A9A9A9"
RED = "#B22222"
S = 12

def layer(df, color, alpha, s, lw):
    sns.scatterplot(data=df, x="A", y="M", color=color, alpha=alpha, s=s,
                    edgecolor=color, linewidth=lw, ax=ax, legend=False, zorder=3)

layer(core, GRAY, 0.95, 22, 0)
layer(dense, GRAY, 0.55, S, 0.5)
layer(lat_gray, GRAY, 0.85, S, 0.5)
layer(lat_extra, GRAY, 0.5, S, 0.5)
layer(cloud, GRAY, 0.5, S, 0.5)
layer(lat_mix, RED, 0.45, S, 0.5)
layer(lat_red, RED, 0.8, S, 0.5)
layer(red, RED, 0.5, S, 0.5)

ax.set_xlim(-0.771, 16.35)
ax.set_ylim(-5.92, 6.09)
ax.set_xticks([0, 5, 10, 15])
ax.set_yticks([-3, 0, 3, 6])
ax.set_xticks([2.5, 7.5, 12.5], minor=True)
ax.set_yticks([-4.5, -1.5, 1.5, 4.5], minor=True)
ax.set_xticklabels(["0", "5", "10", "15"])
ax.set_yticklabels(["-3", "0", "3", "6"])
ax.set_axisbelow(True)
ax.grid(which="major", color="#EBEBEB", linewidth=1.0)
ax.grid(which="minor", color="#EBEBEB", linewidth=0.5)
ax.tick_params(which="major", length=2.75, width=0.75, color="#333333",
               labelsize=8.8, labelcolor="#4D4D4D", pad=2.2,
               bottom=True, left=True)
ax.tick_params(which="minor", length=0)
for sp in ax.spines.values():
    sp.set_visible(True)
    sp.set_color("#333333")
    sp.set_linewidth(0.75)

ax.set_xlabel("log2((control + stress) / 2)", fontsize=11, color="black", labelpad=2.75)
ax.set_ylabel("log2(stress) - log2(control)", fontsize=11, color="black", labelpad=2.75)
ax.set_title("fixed", loc="left", fontsize=13.2, color="black", pad=8.6)

fig.savefig("out.png", dpi=200)
